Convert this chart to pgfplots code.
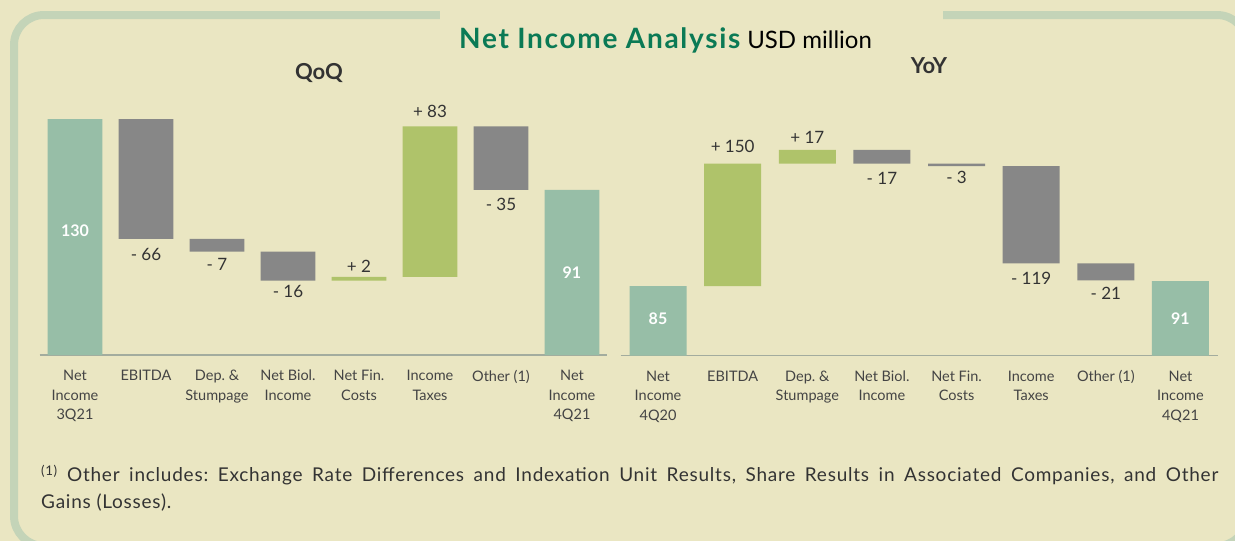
\documentclass[border=0pt]{standalone}
\usepackage{fontspec}
\setmainfont{Lato}
\usepackage{pgfplots}
\usepackage{pgfplotstable}
\pgfplotsset{compat=1.18}
\frenchspacing
\definecolor{bg}{HTML}{EAE6C2}
\definecolor{bordercol}{HTML}{C4D4B8}
\definecolor{nicol}{HTML}{97BEA7}
\definecolor{grayb}{HTML}{878787}
\definecolor{greenb}{HTML}{AFC36A}
\definecolor{titlegreen}{HTML}{0B7A55}
\definecolor{txt}{HTML}{333333}
\definecolor{labcol}{HTML}{444444}
\definecolor{basecol}{HTML}{A3AC9E}

\pgfplotstableread{
x base ni gray green
0 0 130 0 0
1 64 0 66 0
2 57 0 7 0
3 41 0 16 0
4 41 0 0 2
5 43 0 0 83
6 91 0 35 0
7 0 91 0 0
}\qoq

\pgfplotstableread{
x base ni gray green
0 0 85 0 0
1 85 0 0 150
2 235 0 0 17
3 235 0 17 0
4 232 0 3 0
5 113 0 119 0
6 92 0 21 0
7 0 91 0 0
}\yoy

\pgfplotsset{
  wf/.style={
    scale only axis, anchor=south west, clip=false,
    xmin=-0.5, xmax=7.5, ymin=0,
    axis x line=bottom, axis y line=none,
    axis line style={draw=basecol, line width=1.3pt, -},
    ytick=\empty, xtick={0,...,7}, major tick length=0pt,
    xticklabels={{Net\\Income\\#1},EBITDA,{Dep. \&\\Stumpage},{Net Biol.\\Income},{Net Fin.\\Costs},{Income\\Taxes},{Other (1)},{Net\\Income\\4Q21}},
    x tick label style={font=\fontsize{14.5}{19.5}\selectfont, text=labcol, align=center, anchor=north, inner sep=0pt, yshift=-15pt},
    ybar stacked,
  },
}
\tikzset{
  vlab/.style={font=\fontsize{17}{20}\selectfont, text=txt},
  wlab/.style={font=\fontsize{16}{20}\selectfont\bfseries, text=white},
}

\begin{document}
\begin{tikzpicture}
\useasboundingbox (0pt,0pt) rectangle (1235pt,-541pt);
\begin{scope}[x=1pt,y=-1pt]
  \clip (0,0) rectangle (1235,541);
  \fill[bg] (0,0) rectangle (1235,541);
  \draw[bordercol, line width=8pt, rounded corners=30pt] (14,15) rectangle (1247,546);
  \fill[bg] (440,8) rectangle (943,22);
  \node[anchor=base west, inner sep=0pt] at (459,48)
    {\textcolor{titlegreen}{\fontsize{28}{32}\selectfont\bfseries\addfontfeature{LetterSpace=6}Net Income Analysis}\hspace{7pt}{\fontsize{24}{27}\selectfont USD million}};
  \node[font=\fontsize{22}{26}\selectfont\bfseries, text=txt] at (319,73) {QoQ};
  \node[font=\fontsize{22}{26}\selectfont\bfseries, text=txt] at (929,66) {YoY};
  \node[anchor=base west, inner sep=0pt, text=txt] at (41,481.7)
    {\fontsize{19}{26}\selectfont\addfontfeature{LetterSpace=4}\makebox[1177pt][s]{\textsuperscript{(1)} Other includes: Exchange Rate Differences and Indexation Unit Results, Share Results in Associated Companies, and Other}};
  \node[anchor=base west, inner sep=0pt, text=txt] at (41,508)
    {\fontsize{19}{26}\selectfont\addfontfeature{LetterSpace=4}Gains (Losses).};
\end{scope}

% QoQ
\begin{axis}[wf=3Q21, at={(39.5pt,-355pt)}, width=568pt, height=254.1pt, ymax=140, bar width=0.77]
  \addplot[draw=none, fill=none] table[x=x, y=base] \qoq;
  \addplot[draw=none, fill=nicol] table[x=x, y=ni] \qoq;
  \addplot[draw=none, fill=grayb] table[x=x, y=gray] \qoq;
  \addplot[draw=none, fill=greenb] table[x=x, y=green] \qoq;
  \coordinate (q0) at (axis cs:0,68.3);
  \coordinate (q7) at (axis cs:7,45.3);
  \node[vlab] at (axis cs:1,55.6) {- 66};
  \node[vlab] at (axis cs:2,50.1) {- 7};
  \node[vlab] at (axis cs:3,34.9) {- 16};
  \node[vlab] at (axis cs:4,48.6) {+ 2};
  \node[vlab] at (axis cs:5,134.4) {+ 83};
  \node[vlab] at (axis cs:6,83.2) {- 35};
\end{axis}
\node[wlab] at (q0) {130};
\node[wlab] at (q7) {91};

% YoY
\begin{axis}[wf=4Q20, at={(620.7pt,-355.5pt)}, width=597.1pt, height=212.2pt, ymax=260, bar width=0.764]
  \addplot[draw=none, fill=none] table[x=x, y=base] \yoy;
  \addplot[draw=none, fill=nicol] table[x=x, y=ni] \yoy;
  \addplot[draw=none, fill=grayb] table[x=x, y=gray] \yoy;
  \addplot[draw=none, fill=greenb] table[x=x, y=green] \yoy;
  \coordinate (y0) at (axis cs:0,45.1);
  \coordinate (y7) at (axis cs:7,45.6);
  \node[vlab] at (axis cs:1,255.9) {+ 150};
  \node[vlab] at (axis cs:2,266.9) {+ 17};
  \node[vlab] at (axis cs:3,217.2) {- 17};
  \node[vlab] at (axis cs:4,217.9) {- 3};
  \node[vlab] at (axis cs:5,94.6) {- 119};
  \node[vlab] at (axis cs:6,76.2) {- 21};
\end{axis}
\node[wlab] at (y0) {85};
\node[wlab] at (y7) {91};
\end{tikzpicture}
\end{document}
